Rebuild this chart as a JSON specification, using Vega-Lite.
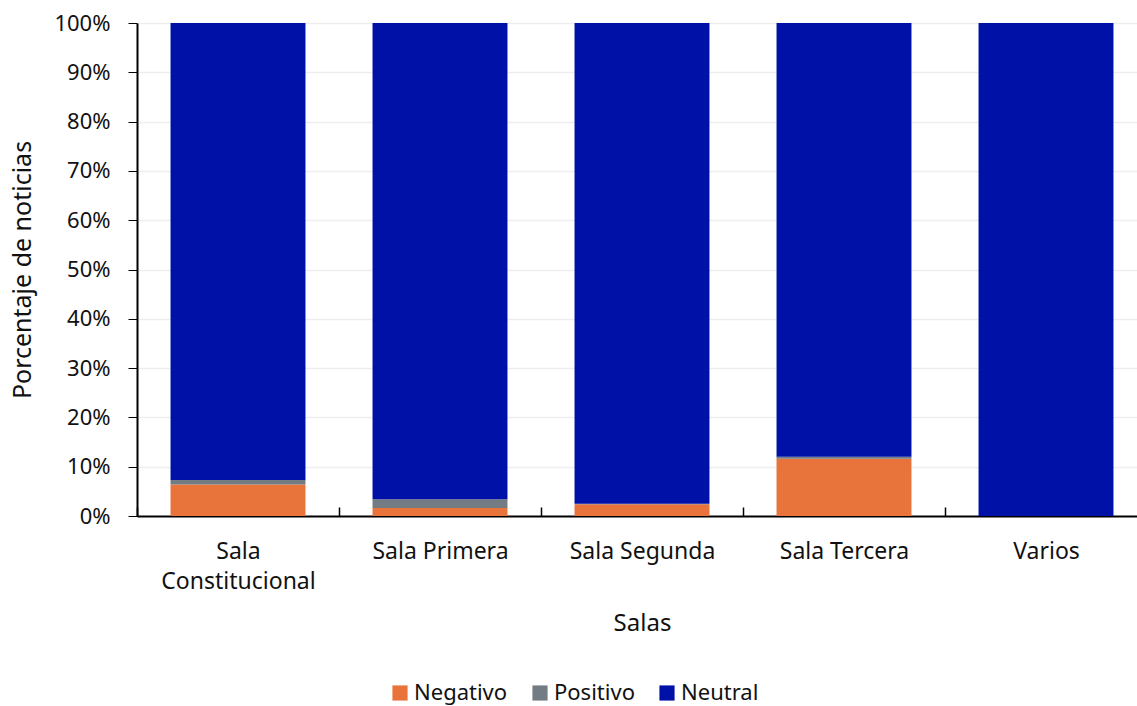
{
  "$schema": "https://vega.github.io/schema/vega-lite/v6.json",
  "width": 1010,
  "height": 493,
  "autosize": {"type": "none"},
  "padding": {"left": 137, "top": 23, "right": 0, "bottom": 190},
  "background": "white",
  "config": {
    "font": "Noto Sans",
    "view": {"stroke": null}
  },
  "data": {
    "values": [
      {"sala": "Sala Constitucional", "tipo": "Negativo", "orden": 1, "valor": 0.064},
      {"sala": "Sala Constitucional", "tipo": "Positivo", "orden": 2, "valor": 0.009},
      {"sala": "Sala Constitucional", "tipo": "Neutral", "orden": 3, "valor": 0.927},
      {"sala": "Sala Primera", "tipo": "Negativo", "orden": 1, "valor": 0.016},
      {"sala": "Sala Primera", "tipo": "Positivo", "orden": 2, "valor": 0.018},
      {"sala": "Sala Primera", "tipo": "Neutral", "orden": 3, "valor": 0.966},
      {"sala": "Sala Segunda", "tipo": "Negativo", "orden": 1, "valor": 0.024},
      {"sala": "Sala Segunda", "tipo": "Positivo", "orden": 2, "valor": 0.001},
      {"sala": "Sala Segunda", "tipo": "Neutral", "orden": 3, "valor": 0.975},
      {"sala": "Sala Tercera", "tipo": "Negativo", "orden": 1, "valor": 0.116},
      {"sala": "Sala Tercera", "tipo": "Positivo", "orden": 2, "valor": 0.004},
      {"sala": "Sala Tercera", "tipo": "Neutral", "orden": 3, "valor": 0.880},
      {"sala": "Varios", "tipo": "Negativo", "orden": 1, "valor": 0.0},
      {"sala": "Varios", "tipo": "Positivo", "orden": 2, "valor": 0.0},
      {"sala": "Varios", "tipo": "Neutral", "orden": 3, "valor": 1.0}
    ]
  },
  "mark": {"type": "bar", "width": {"band": 0.668}},
  "encoding": {
    "x": {
      "field": "sala",
      "type": "nominal",
      "sort": ["Sala Constitucional", "Sala Primera", "Sala Segunda", "Sala Tercera", "Varios"],
      "scale": {"paddingInner": 0, "paddingOuter": 0},
      "axis": {
        "title": "Salas",
        "titleFontSize": 24,
        "titleFontWeight": "normal",
        "titleColor": "#111111",
        "titlePadding": 18,
        "labelAngle": 0,
        "labelFontSize": 23,
        "labelColor": "#111111",
        "labelPadding": 33,
        "labelLineHeight": 30,
        "labelExpr": "datum.value == 'Sala Constitucional' ? ['Sala', 'Constitucional'] : datum.value",
        "tickBand": "extent",
        "tickColor": "#000000",
        "tickSize": -9,
        "tickWidth": 1.5,
        "domainColor": "#000000",
        "domainWidth": 2,
        "grid": false
      }
    },
    "y": {
      "field": "valor",
      "type": "quantitative",
      "stack": "zero",
      "scale": {"domain": [0, 1]},
      "axis": {
        "title": "Porcentaje  de noticias",
        "titleFontSize": 25,
        "titleFontWeight": "normal",
        "titleColor": "#111111",
        "titlePadding": 18,
        "format": ".0%",
        "values": [0, 0.1, 0.2, 0.3, 0.4, 0.5, 0.6, 0.7, 0.8, 0.9, 1.0],
        "labelFontSize": 22,
        "labelColor": "#111111",
        "labelPadding": 18,
        "tickColor": "#000000",
        "tickSize": 9,
        "domainColor": "#000000",
        "domainWidth": 2,
        "gridColor": "#eeeeee",
        "gridWidth": 1.5
      }
    },
    "color": {
      "field": "tipo",
      "type": "nominal",
      "scale": {
        "domain": ["Negativo", "Positivo", "Neutral"],
        "range": ["#E8743C", "#747C83", "#0011A7"]
      },
      "legend": {
        "title": null,
        "orient": "none",
        "direction": "horizontal",
        "legendX": 252,
        "legendY": 659,
        "symbolType": "square",
        "symbolSize": 230,
        "symbolStrokeWidth": 0,
        "labelFontSize": 22,
        "labelColor": "#111111",
        "columnPadding": 21,
        "labelOffset": 3,
        "labelLimit": 200
      }
    },
    "order": {"field": "orden", "type": "quantitative"}
  }
}
